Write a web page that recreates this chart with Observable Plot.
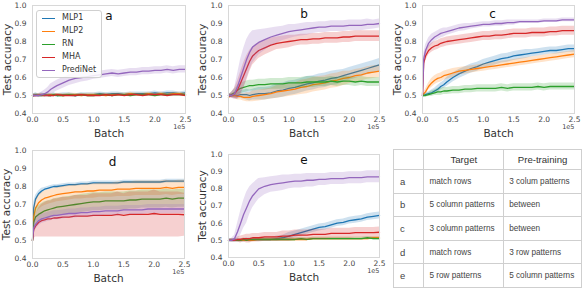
<!DOCTYPE html>
<html>
<head>
<meta charset="utf-8">
<script src="https://cdn.jsdelivr.net/npm/d3@7"></script>
<script src="https://cdn.jsdelivr.net/npm/@observablehq/plot@0.6"></script>
<style>
  html, body { margin: 0; padding: 0; background: #fff; }
  #root { position: relative; width: 582px; height: 290px; overflow: hidden; font-family: "DejaVu Sans", sans-serif; }
  .panel { position: absolute; }
  .panel svg { overflow: visible; }
  #legend { position: absolute; left: 36px; top: 10px; width: 64px; height: 66px; background: rgba(255,255,255,0.85);
            border: 1px solid #d0d0d0; border-radius: 3px; font-size: 8px; color: #333; }
  .li { position: absolute; left: 0; height: 10px; }
  .li span.sw { position: absolute; left: 5px; top: 5px; width: 13px; height: 0; border-top: 1.4px solid; }
  .li span.lb { position: absolute; left: 25px; top: 0px; white-space: nowrap; line-height: 10px; }
  table { position: absolute; left: 393px; top: 149px; border-collapse: collapse; font-family: "Liberation Sans", Arial, sans-serif; }
  td { border: 1px solid #cfcfcf; padding: 0; color: #444; font-size: 8.2px; }
  td.k { font-size: 9.5px; padding-left: 6px; }
  td.v { padding-left: 5px; }
  tr.h td { text-align: center; font-size: 9.6px; color: #333; }
</style>
</head>
<body>
<div id="root"></div>
<script>
// ---------- data ----------
const batch = [0, 0.02, 0.05, 0.1, 0.15, 0.2, 0.25, 0.3, 0.35, 0.4, 0.5, 0.6, 0.7, 0.8, 0.9, 1.0, 1.1, 1.2, 1.3, 1.4, 1.5, 1.6, 1.7, 1.8, 1.9, 2.0, 2.1, 2.2, 2.3, 2.4, 2.5];
const seriesNames = ["MLP1", "MLP2", "RN", "MHA", "PrediNet"];
const seriesColors = ["#1f77b4", "#ff7f0e", "#2ca02c", "#d62728", "#9467bd"];
const xTicks = [0, 0.5, 1.0, 1.5, 2.0, 2.5];
const yTicks = [0.4, 0.5, 0.6, 0.7, 0.8, 0.9, 1.0];
const panelLabels = ["a", "b", "c", "d", "e"];
const tableHeader = ["", "Target", "Pre-training"];
const tableTargets = ["match rows", "5 column patterns", "3 column patterns", "match rows", "5 row patterns"];
const tablePretraining = ["3 colum patterns", "between", "between", "3 row patterns", "5 column patterns"];

const meanA = {
  MLP1: [0.50,0.50,0.505,0.50,0.505,0.50,0.505,0.50,0.505,0.50,0.505,0.505,0.50,0.505,0.505,0.505,0.51,0.505,0.51,0.51,0.505,0.51,0.51,0.51,0.51,0.515,0.51,0.515,0.515,0.51,0.515],
  MLP2: [0.50,0.50,0.50,0.505,0.50,0.50,0.505,0.505,0.50,0.505,0.50,0.505,0.505,0.50,0.505,0.505,0.505,0.50,0.505,0.505,0.505,0.51,0.505,0.505,0.51,0.505,0.51,0.505,0.51,0.51,0.505],
  RN: [0.50,0.50,0.505,0.50,0.50,0.505,0.50,0.50,0.505,0.50,0.50,0.505,0.50,0.505,0.50,0.50,0.505,0.505,0.50,0.505,0.505,0.50,0.505,0.505,0.505,0.50,0.505,0.505,0.505,0.505,0.505],
  MHA: [0.50,0.50,0.50,0.50,0.505,0.50,0.50,0.50,0.50,0.505,0.50,0.50,0.50,0.505,0.50,0.50,0.50,0.505,0.50,0.505,0.50,0.505,0.505,0.50,0.505,0.505,0.505,0.50,0.505,0.505,0.50],
  PrediNet: [0.50,0.50,0.50,0.50,0.505,0.51,0.52,0.535,0.545,0.555,0.57,0.585,0.595,0.60,0.605,0.61,0.615,0.62,0.625,0.62,0.625,0.63,0.63,0.635,0.635,0.64,0.64,0.645,0.64,0.645,0.645]
};
const sdA = {
  MLP1: [0.01,0.01,0.01,0.01,0.01,0.01,0.01,0.01,0.01,0.01,0.01,0.01,0.01,0.01,0.01,0.01,0.01,0.01,0.01,0.01,0.01,0.01,0.01,0.01,0.01,0.01,0.01,0.01,0.01,0.01,0.01],
  MLP2: [0.008,0.008,0.008,0.008,0.008,0.008,0.008,0.008,0.008,0.008,0.008,0.008,0.008,0.008,0.008,0.008,0.008,0.008,0.008,0.008,0.008,0.008,0.008,0.008,0.008,0.008,0.008,0.008,0.008,0.008,0.008],
  RN: [0.008,0.008,0.008,0.008,0.008,0.008,0.008,0.008,0.008,0.008,0.008,0.008,0.008,0.008,0.008,0.008,0.008,0.008,0.008,0.008,0.008,0.008,0.008,0.008,0.008,0.008,0.008,0.008,0.008,0.008,0.008],
  MHA: [0.006,0.006,0.006,0.006,0.006,0.006,0.006,0.006,0.006,0.006,0.006,0.006,0.006,0.006,0.006,0.006,0.006,0.006,0.006,0.006,0.006,0.006,0.006,0.006,0.006,0.006,0.006,0.006,0.006,0.006,0.006],
  PrediNet: [0.01,0.01,0.01,0.01,0.015,0.02,0.025,0.03,0.03,0.03,0.03,0.03,0.03,0.025,0.025,0.02,0.02,0.02,0.02,0.02,0.02,0.02,0.02,0.02,0.02,0.02,0.02,0.02,0.02,0.02,0.02]
};

const meanB = {
  MLP1: [0.50,0.50,0.50,0.50,0.50,0.505,0.505,0.505,0.50,0.505,0.51,0.51,0.515,0.525,0.53,0.54,0.545,0.555,0.565,0.57,0.58,0.585,0.595,0.60,0.61,0.62,0.63,0.64,0.65,0.66,0.67],
  MLP2: [0.49,0.495,0.50,0.50,0.495,0.495,0.49,0.49,0.49,0.495,0.50,0.505,0.51,0.52,0.525,0.53,0.535,0.545,0.55,0.56,0.565,0.57,0.58,0.585,0.595,0.60,0.61,0.615,0.625,0.63,0.635],
  RN: [0.50,0.50,0.505,0.515,0.53,0.54,0.545,0.55,0.555,0.555,0.56,0.56,0.565,0.565,0.565,0.57,0.57,0.57,0.575,0.575,0.575,0.575,0.58,0.575,0.58,0.58,0.575,0.58,0.575,0.575,0.575],
  MHA: [0.50,0.50,0.50,0.51,0.53,0.57,0.61,0.65,0.69,0.72,0.75,0.765,0.78,0.79,0.795,0.80,0.805,0.81,0.81,0.815,0.815,0.82,0.82,0.82,0.825,0.825,0.83,0.83,0.83,0.83,0.83],
  PrediNet: [0.50,0.50,0.50,0.51,0.55,0.60,0.65,0.70,0.74,0.77,0.795,0.81,0.825,0.835,0.845,0.855,0.86,0.865,0.87,0.875,0.88,0.88,0.885,0.885,0.885,0.89,0.89,0.89,0.895,0.895,0.90]
};
const sdB = {
  MLP1: [0.01,0.01,0.01,0.015,0.02,0.02,0.025,0.03,0.03,0.03,0.035,0.035,0.035,0.04,0.04,0.04,0.04,0.04,0.04,0.04,0.04,0.04,0.04,0.04,0.035,0.035,0.035,0.035,0.035,0.035,0.035],
  MLP2: [0.01,0.01,0.01,0.015,0.02,0.02,0.02,0.025,0.025,0.03,0.03,0.03,0.03,0.035,0.035,0.035,0.035,0.04,0.04,0.04,0.04,0.04,0.04,0.04,0.04,0.035,0.035,0.035,0.035,0.035,0.035],
  RN: [0.01,0.01,0.015,0.02,0.025,0.03,0.03,0.03,0.03,0.03,0.03,0.03,0.03,0.03,0.03,0.03,0.03,0.03,0.03,0.03,0.025,0.025,0.025,0.025,0.025,0.025,0.025,0.025,0.025,0.025,0.025],
  MHA: [0.01,0.01,0.015,0.03,0.05,0.06,0.07,0.07,0.06,0.05,0.045,0.04,0.04,0.035,0.035,0.035,0.03,0.03,0.03,0.03,0.03,0.03,0.03,0.03,0.03,0.03,0.03,0.03,0.03,0.03,0.03],
  PrediNet: [0.01,0.01,0.015,0.03,0.07,0.1,0.11,0.11,0.1,0.09,0.07,0.06,0.05,0.045,0.04,0.04,0.035,0.035,0.035,0.03,0.03,0.03,0.03,0.03,0.03,0.03,0.03,0.03,0.03,0.025,0.025]
};

const meanC = {
  MLP1: [0.50,0.50,0.505,0.51,0.515,0.525,0.535,0.55,0.56,0.575,0.60,0.62,0.635,0.65,0.66,0.675,0.685,0.695,0.705,0.71,0.72,0.725,0.73,0.735,0.74,0.745,0.75,0.75,0.755,0.76,0.76],
  MLP2: [0.50,0.51,0.52,0.55,0.57,0.585,0.595,0.60,0.61,0.615,0.625,0.635,0.64,0.645,0.65,0.655,0.66,0.665,0.67,0.675,0.68,0.685,0.69,0.695,0.70,0.705,0.71,0.715,0.72,0.725,0.73],
  RN: [0.50,0.50,0.50,0.505,0.51,0.515,0.52,0.52,0.525,0.525,0.53,0.53,0.535,0.535,0.54,0.54,0.54,0.54,0.545,0.54,0.545,0.545,0.545,0.545,0.55,0.545,0.55,0.55,0.55,0.55,0.55],
  MHA: [0.50,0.68,0.72,0.75,0.765,0.775,0.78,0.79,0.795,0.80,0.805,0.81,0.815,0.82,0.825,0.83,0.83,0.835,0.835,0.84,0.845,0.845,0.845,0.85,0.85,0.85,0.855,0.855,0.86,0.86,0.86],
  PrediNet: [0.50,0.70,0.75,0.79,0.81,0.825,0.835,0.845,0.85,0.855,0.865,0.875,0.88,0.885,0.89,0.895,0.895,0.90,0.90,0.905,0.905,0.91,0.91,0.91,0.91,0.915,0.915,0.915,0.92,0.92,0.92]
};
const sdC = {
  MLP1: [0.005,0.005,0.01,0.01,0.015,0.015,0.02,0.02,0.02,0.025,0.025,0.025,0.025,0.025,0.025,0.025,0.025,0.025,0.025,0.025,0.025,0.025,0.025,0.02,0.02,0.02,0.02,0.02,0.02,0.02,0.02],
  MLP2: [0.005,0.01,0.015,0.02,0.025,0.025,0.025,0.025,0.025,0.025,0.025,0.02,0.02,0.02,0.02,0.02,0.02,0.02,0.02,0.02,0.02,0.02,0.02,0.02,0.02,0.02,0.02,0.02,0.02,0.02,0.02],
  RN: [0.005,0.005,0.01,0.01,0.015,0.015,0.02,0.02,0.02,0.02,0.02,0.02,0.02,0.02,0.02,0.02,0.02,0.02,0.02,0.02,0.02,0.02,0.02,0.02,0.02,0.02,0.02,0.02,0.02,0.02,0.02],
  MHA: [0.01,0.03,0.03,0.025,0.025,0.025,0.025,0.025,0.025,0.025,0.025,0.025,0.025,0.025,0.025,0.025,0.025,0.025,0.025,0.025,0.025,0.025,0.025,0.025,0.025,0.025,0.025,0.025,0.025,0.025,0.025],
  PrediNet: [0.01,0.03,0.03,0.03,0.03,0.025,0.025,0.025,0.025,0.02,0.02,0.02,0.02,0.015,0.015,0.015,0.015,0.015,0.015,0.015,0.015,0.01,0.01,0.01,0.01,0.01,0.01,0.01,0.01,0.01,0.01]
};

const meanD = {
  MLP1: [0.50,0.68,0.73,0.76,0.775,0.785,0.79,0.795,0.80,0.80,0.805,0.81,0.81,0.815,0.815,0.82,0.82,0.82,0.82,0.82,0.825,0.825,0.825,0.825,0.825,0.825,0.825,0.83,0.83,0.83,0.83],
  MLP2: [0.50,0.63,0.68,0.71,0.725,0.735,0.74,0.745,0.75,0.755,0.76,0.765,0.77,0.77,0.775,0.775,0.78,0.78,0.78,0.785,0.785,0.785,0.79,0.79,0.79,0.79,0.79,0.795,0.79,0.795,0.795],
  RN: [0.50,0.60,0.63,0.645,0.655,0.665,0.67,0.675,0.68,0.685,0.69,0.695,0.70,0.705,0.71,0.715,0.715,0.72,0.72,0.72,0.72,0.725,0.725,0.73,0.73,0.73,0.73,0.735,0.73,0.735,0.735],
  MHA: [0.50,0.56,0.58,0.60,0.61,0.615,0.62,0.62,0.625,0.625,0.63,0.63,0.635,0.635,0.635,0.64,0.64,0.64,0.64,0.645,0.64,0.645,0.645,0.645,0.645,0.65,0.645,0.645,0.645,0.645,0.643],
  PrediNet: [0.50,0.57,0.59,0.61,0.62,0.625,0.63,0.635,0.64,0.64,0.645,0.65,0.65,0.655,0.655,0.66,0.66,0.665,0.665,0.665,0.67,0.67,0.67,0.67,0.675,0.675,0.675,0.675,0.675,0.675,0.675]
};
const sdD = {
  MLP1: [0.01,0.03,0.02,0.015,0.015,0.01,0.01,0.01,0.01,0.01,0.01,0.01,0.01,0.01,0.01,0.01,0.01,0.01,0.01,0.01,0.01,0.01,0.01,0.01,0.01,0.01,0.01,0.01,0.01,0.01,0.01],
  MLP2: [0.01,0.04,0.04,0.04,0.04,0.04,0.04,0.04,0.04,0.04,0.04,0.04,0.04,0.04,0.04,0.04,0.04,0.04,0.04,0.04,0.04,0.04,0.04,0.04,0.04,0.04,0.04,0.04,0.04,0.04,0.04],
  RN: [0.01,0.04,0.05,0.05,0.05,0.05,0.05,0.05,0.05,0.05,0.05,0.05,0.05,0.05,0.05,0.05,0.05,0.05,0.05,0.05,0.05,0.05,0.05,0.05,0.05,0.05,0.05,0.05,0.05,0.05,0.05],
  MHA: [0.02,0.05,0.06,0.08,0.09,0.095,0.1,0.1,0.105,0.105,0.11,0.11,0.115,0.115,0.115,0.12,0.12,0.12,0.12,0.125,0.12,0.125,0.125,0.125,0.125,0.13,0.125,0.125,0.125,0.125,0.12],
  PrediNet: [0.01,0.03,0.03,0.03,0.025,0.025,0.025,0.025,0.025,0.025,0.025,0.025,0.025,0.025,0.025,0.025,0.025,0.025,0.025,0.025,0.025,0.025,0.025,0.025,0.025,0.025,0.025,0.025,0.025,0.025,0.025]
};

const meanE = {
  MLP1: [0.50,0.50,0.50,0.50,0.50,0.50,0.50,0.505,0.50,0.505,0.505,0.505,0.505,0.51,0.515,0.525,0.535,0.545,0.555,0.565,0.575,0.58,0.59,0.60,0.605,0.615,0.62,0.625,0.635,0.64,0.645],
  MLP2: [0.50,0.50,0.50,0.50,0.50,0.50,0.50,0.50,0.50,0.50,0.505,0.505,0.505,0.505,0.505,0.505,0.505,0.505,0.505,0.51,0.51,0.51,0.51,0.51,0.51,0.51,0.51,0.51,0.51,0.515,0.515],
  RN: [0.50,0.50,0.50,0.50,0.50,0.50,0.505,0.50,0.505,0.505,0.505,0.505,0.505,0.505,0.505,0.505,0.505,0.51,0.505,0.51,0.51,0.51,0.51,0.51,0.51,0.51,0.51,0.51,0.515,0.51,0.51],
  MHA: [0.50,0.50,0.50,0.50,0.505,0.505,0.51,0.51,0.51,0.515,0.515,0.52,0.52,0.52,0.525,0.525,0.53,0.53,0.53,0.535,0.535,0.535,0.54,0.54,0.54,0.54,0.545,0.545,0.545,0.545,0.547],
  PrediNet: [0.50,0.50,0.50,0.51,0.55,0.60,0.65,0.69,0.73,0.76,0.80,0.815,0.825,0.83,0.835,0.84,0.845,0.845,0.85,0.85,0.855,0.855,0.86,0.86,0.86,0.865,0.865,0.865,0.87,0.87,0.87]
};
const sdE = {
  MLP1: [0.01,0.01,0.01,0.01,0.01,0.01,0.01,0.01,0.01,0.01,0.01,0.01,0.01,0.015,0.015,0.02,0.02,0.02,0.02,0.02,0.02,0.02,0.02,0.02,0.02,0.02,0.02,0.02,0.02,0.02,0.02],
  MLP2: [0.008,0.008,0.008,0.008,0.008,0.008,0.008,0.008,0.008,0.008,0.008,0.008,0.008,0.008,0.008,0.008,0.008,0.008,0.008,0.008,0.008,0.008,0.008,0.008,0.008,0.008,0.008,0.008,0.008,0.008,0.008],
  RN: [0.008,0.008,0.008,0.008,0.008,0.008,0.008,0.008,0.008,0.008,0.008,0.008,0.008,0.008,0.008,0.008,0.008,0.008,0.008,0.008,0.008,0.008,0.008,0.008,0.008,0.008,0.008,0.008,0.008,0.008,0.008],
  MHA: [0.005,0.005,0.01,0.01,0.015,0.02,0.02,0.025,0.025,0.025,0.025,0.025,0.025,0.025,0.03,0.03,0.03,0.03,0.03,0.03,0.03,0.03,0.03,0.03,0.03,0.03,0.03,0.03,0.03,0.03,0.03],
  PrediNet: [0.01,0.01,0.01,0.02,0.05,0.07,0.08,0.09,0.08,0.07,0.06,0.05,0.045,0.045,0.045,0.04,0.04,0.04,0.04,0.04,0.035,0.035,0.035,0.035,0.035,0.035,0.035,0.035,0.035,0.035,0.035]
};

// ---------- layout ----------
const panels = [
  {label: "a", mean: meanA, sd: sdA, left: 0,   top: 0,   frameW: 153, frameH: 108, titleDx: 0,  titleDy: 10.5, ylabDx: -25},
  {label: "b", mean: meanB, sd: sdB, left: 196, top: 0,   frameW: 151, frameH: 108, titleDx: 0,  titleDy: 9,    ylabDx: -26},
  {label: "c", mean: meanC, sd: sdC, left: 390, top: 0,   frameW: 152, frameH: 108, titleDx: -6, titleDy: 9,    ylabDx: -25},
  {label: "d", mean: meanD, sd: sdD, left: 0,   top: 145, frameW: 152, frameH: 108, titleDx: 4,  titleDy: 12,   ylabDx: -26},
  {label: "e", mean: meanE, sd: sdE, left: 196, top: 149, frameW: 151, frameH: 103, titleDx: 0,  titleDy: 6,    ylabDx: -26}
];
const ML = 32, MR = 8, MT = 5, MB = 27;
const root = document.getElementById("root");

for (const p of panels) {
  const marks = [];
  seriesNames.forEach((s, k) => {
    const rows = batch.map((x, i) => ({x, y: p.mean[s][i], lo: p.mean[s][i] - p.sd[s][i], hi: p.mean[s][i] + p.sd[s][i]}));
    marks.push(Plot.areaY(rows, {x: "x", y1: "lo", y2: "hi", fill: seriesColors[k], fillOpacity: 0.22}));
    marks.push(Plot.lineY(rows, {x: "x", y: "y", stroke: seriesColors[k], strokeWidth: 1.3}));
  });
  marks.push(Plot.frame({stroke: "#d8d8d8", strokeWidth: 1}));
  marks.push(Plot.text([p.label], {frameAnchor: "top", lineAnchor: "middle", dx: p.titleDx, dy: p.titleDy, fontSize: 12, fill: "#111"}));
  marks.push(Plot.text(["Test accuracy"], {frameAnchor: "left", rotate: -90, textAnchor: "middle", lineAnchor: "middle", dx: p.ylabDx, fontSize: 10.5, fill: "#333"}));
  marks.push(Plot.text(["Batch"], {frameAnchor: "bottom", lineAnchor: "middle", dy: 20, fontSize: 10.5, fill: "#333"}));
  marks.push(Plot.text(["1e5"], {frameAnchor: "bottom-right", textAnchor: "end", lineAnchor: "middle", dy: 13, fontSize: 6.5, fill: "#444"}));

  const chart = Plot.plot({
    width: ML + p.frameW + MR,
    height: MT + p.frameH + MB,
    marginLeft: ML, marginRight: MR, marginTop: MT, marginBottom: MB,
    style: {fontFamily: "DejaVu Sans", fontSize: "7.5px", color: "#444", background: "transparent", overflow: "visible"},
    x: {domain: [0, 2.5], ticks: xTicks, tickFormat: d3.format(".1f"), tickSize: 0, tickPadding: 3, label: null},
    y: {domain: [0.4, 1.0], ticks: yTicks, tickFormat: d3.format(".1f"), tickSize: 0, tickPadding: 6, label: null},
    marks
  });
  const div = document.createElement("div");
  div.className = "panel";
  div.style.left = p.left + "px";
  div.style.top = p.top + "px";
  div.appendChild(chart);
  root.appendChild(div);
}

// legend in panel a
const legend = document.createElement("div");
legend.id = "legend";
seriesNames.forEach((s, k) => {
  const item = document.createElement("div");
  item.className = "li";
  item.style.top = (2 + k * 13) + "px";
  item.innerHTML = `<span class="sw" style="border-color:${seriesColors[k]}"></span><span class="lb">${s}</span>`;
  legend.appendChild(item);
});
root.appendChild(legend);

// table
const table = document.createElement("table");
const colW = [30, 80, 78];
const hr = document.createElement("tr");
hr.className = "h";
tableHeader.forEach((h, j) => {
  const td = document.createElement("td");
  td.textContent = h;
  td.style.width = colW[j] + "px";
  td.style.height = "19px";
  hr.appendChild(td);
});
table.appendChild(hr);
panelLabels.forEach((l, i) => {
  const tr = document.createElement("tr");
  const cells = [l, tableTargets[i], tablePretraining[i]];
  cells.forEach((c, j) => {
    const td = document.createElement("td");
    td.textContent = c;
    td.className = j === 0 ? "k" : "v";
    td.style.height = "22.6px";
    tr.appendChild(td);
  });
  table.appendChild(tr);
});
root.appendChild(table);
</script>
</body>
</html>
